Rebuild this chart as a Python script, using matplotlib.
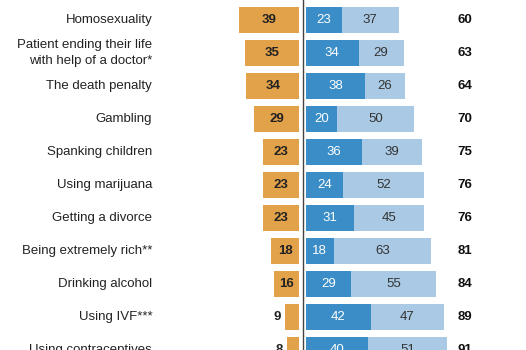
import matplotlib.pyplot as plt

# rows top to bottom (first row is cut off at the top edge of the crop)
labels = ['Abortion', 'Homosexuality',
          'Patient ending their life\nwith help of a doctor*',
          'The death penalty', 'Gambling', 'Spanking children',
          'Using marijuana', 'Getting a divorce', 'Being extremely rich**',
          'Drinking alcohol', 'Using IVF***', 'Using contraceptives']
wrong = [47, 39, 35, 34, 29, 23, 23, 23, 18, 16, 9, 8]
acceptable = [21, 23, 34, 38, 20, 36, 24, 31, 18, 29, 42, 40]
not_moral = [31, 37, 29, 26, 50, 39, 52, 45, 63, 55, 47, 51]
totals = [52, 60, 63, 64, 70, 75, 76, 76, 81, 84, 89, 91]

orange = '#e2a24a'
blue = '#3a8dc6'
light = '#a9c9e4'
gap = 2.2
fs = 9.5

plt.rcParams['font.family'] = ['Liberation Sans', 'DejaVu Sans']

fig = plt.figure(figsize=(5.26, 3.5), dpi=100)
ax = fig.add_axes([0, 0, 1, 1])
ax.set_xlim(-195.2, 144.2)
ax.set_ylim(11.0, 0.394)
ax.axis('off')

ys = list(range(len(labels)))
h = 0.79

ax.barh(ys, [-w for w in wrong], left=-gap, height=h, color=orange)
ax.barh(ys, acceptable, left=gap, height=h, color=blue)
ax.barh(ys, not_moral, left=[gap + a for a in acceptable], height=h, color=light)
ax.axvline(0, color='#444444', lw=1)

for y, lab, w, a, n, t in zip(ys, labels, wrong, acceptable, not_moral, totals):
    if y == 0:
        # this row sits above the visible crop, only its bar bottoms show
        continue
    ax.text(-97, y, lab, ha='right', va='center', fontsize=fs, color='#222222',
            linespacing=1.4)
    if w >= 12:
        ax.text(-gap - w / 2, y, str(w), ha='center', va='center',
                fontsize=fs, fontweight='bold', color='#222222')
    else:
        ax.text(-gap - w - 2.5, y, str(w), ha='right', va='center',
                fontsize=fs, fontweight='bold', color='#222222')
    ax.text(gap + a / 2, y, str(a), ha='center', va='center',
            fontsize=fs, color='white')
    ax.text(gap + a + n / 2, y, str(n), ha='center', va='center',
            fontsize=fs, color='#333333')
    ax.text(104.8, y, str(t), ha='center', va='center', fontsize=fs,
            fontweight='bold', color='#111111')

fig.savefig('out.png', dpi=100)
